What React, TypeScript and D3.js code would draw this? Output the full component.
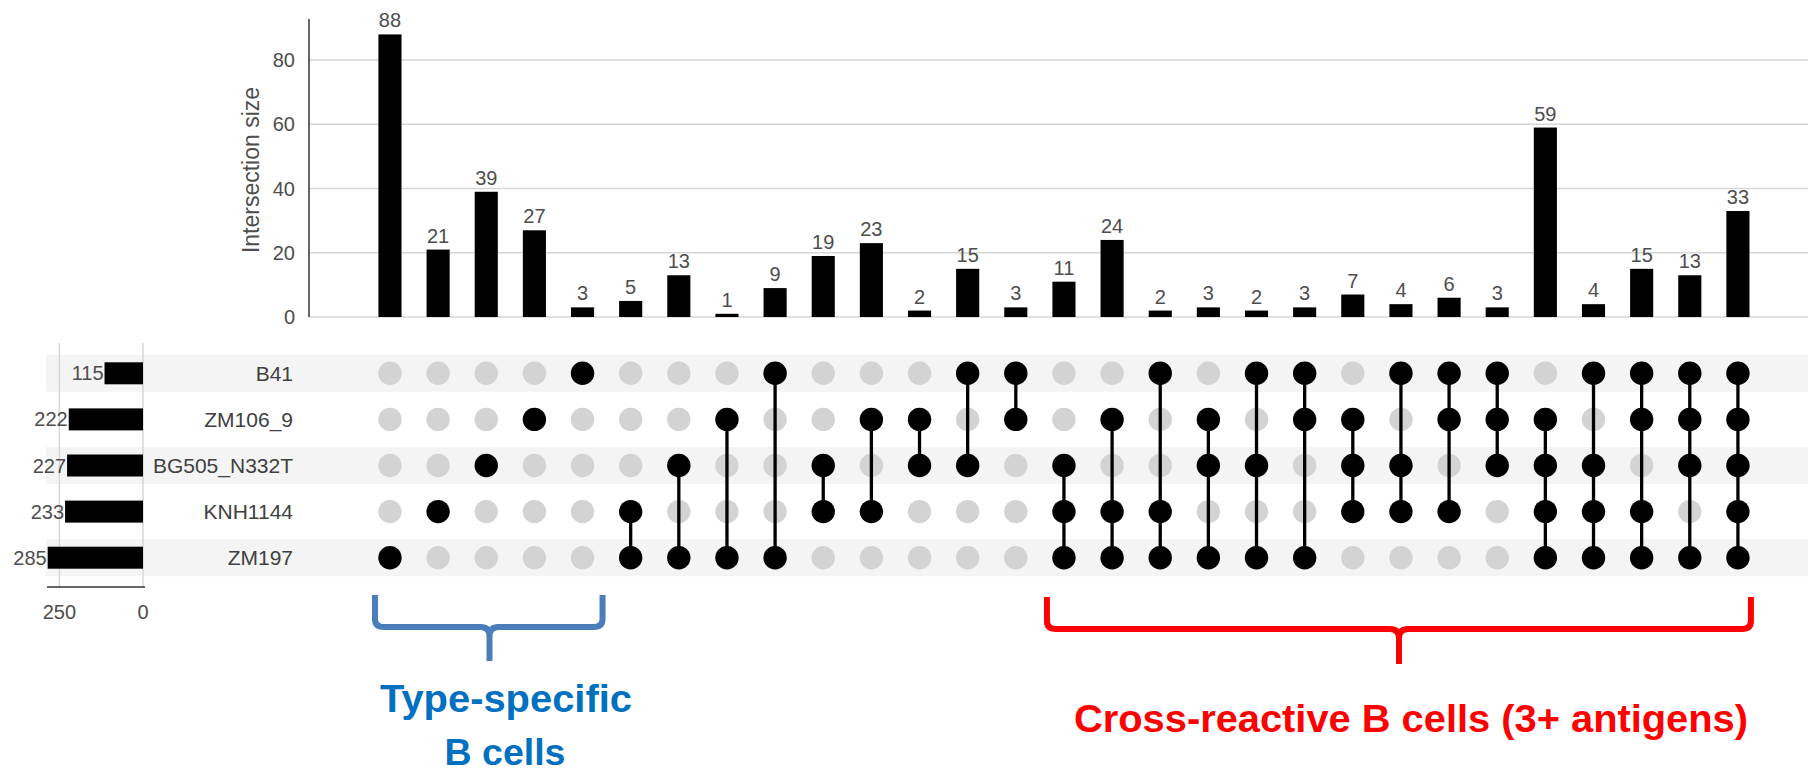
import React from "react";
import * as d3 from "d3";

const sets = ["B41", "ZM106_9", "BG505_N332T", "KNH1144", "ZM197"];
const setSizes = [115, 222, 227, 233, 285];

// each intersection: members (indices into sets) and its size
const intersectionMembers: number[][] = [
  [4], [3], [2], [1], [0],
  [3, 4], [2, 4], [1, 4], [0, 4], [2, 3], [1, 3], [1, 2], [0, 2], [0, 1],
  [2, 3, 4], [1, 3, 4], [0, 3, 4], [1, 2, 4], [0, 2, 4], [0, 1, 4],
  [1, 2, 3], [0, 2, 3], [0, 1, 3], [0, 1, 2],
  [1, 2, 3, 4], [0, 2, 3, 4], [0, 1, 3, 4], [0, 1, 2, 4],
  [0, 1, 2, 3, 4],
];
const intersectionSizes = [
  88, 21, 39, 27, 3, 5, 13, 1, 9, 19, 23, 2, 15, 3, 11, 24, 2, 3, 2, 3, 7, 4, 6, 3, 59, 4, 15, 13, 33,
];
const yTicks = [0, 20, 40, 60, 80];
const setTicks = [250, 0];

const W = 1808;
const H = 774;
const FONT = "'Liberation Sans', Arial, sans-serif";
const BOLD_FONT = "'Liberation Sans Narrow', 'Liberation Sans', Arial, sans-serif";

export default function App() {
  const idx = intersectionSizes.map((_, i) => i);
  const x = d3.scaleBand<number>().domain(idx).range([365.9, 1762]).paddingInner(0.52).paddingOuter(0.26);
  const cx = (i: number) => (x(i) as number) + x.bandwidth() / 2;
  const y = d3.scaleLinear().domain([0, 92.8]).range([317, 19]);
  const row = d3.scaleBand<string>().domain(sets).range([350.25, 580.75]);
  const cy = (s: string) => (row(s) as number) + row.bandwidth() / 2;
  const sx = d3.scaleLinear().domain([0, 287]).range([143, 47]);
  const r = 11.7;

  const brace = (L: number, R: number, mid: number, top: number, hy: number, bottom: number) =>
    `M${L},${top} L${L},${hy - 8} Q${L},${hy} ${L + 9},${hy} L${mid - 9},${hy} Q${mid},${hy} ${mid},${hy + 9} L${mid},${bottom} ` +
    `M${mid},${hy + 9} Q${mid},${hy} ${mid + 9},${hy} L${R - 9},${hy} Q${R},${hy} ${R},${hy - 8} L${R},${top}`;

  const blueL = cx(0) - 15;
  const blueR = cx(4) + 20;
  const redL = cx(14) - 17;
  const redR = cx(28) + 13;

  return (
    <svg width={W} height={H} style={{ display: "block", position: "absolute", left: 0, top: 0 }}>
      <rect width={W} height={H} fill="#fff" />
      {/* stripes */}
      {sets.map((s, k) =>
        k % 2 === 0 ? (
          <rect key={s} x={46} y={cy(s) - 18.5} width={W - 46} height={37} fill="#f4f4f4" />
        ) : null
      )}
      {/* grid lines */}
      {yTicks.map((t) => (
        <line key={t} x1={309} x2={W} y1={y(t)} y2={y(t)} stroke="#d6d6d6" strokeWidth={1.5} />
      ))}
      <line x1={309} x2={309} y1={y.range()[1]} y2={y(0)} stroke="#333" strokeWidth={1.5} />
      {yTicks.map((t) => (
        <text key={t} x={295} y={y(t)} dy="0.35em" textAnchor="end" fontFamily={FONT} fontSize={20} fill="#4d4d4d">
          {t}
        </text>
      ))}
      <text
        transform={`translate(251,${(y(0) + y.range()[1]) / 2 + 2}) rotate(-90)`}
        dy="0.35em"
        textAnchor="middle"
        fontFamily={FONT}
        fontSize={23}
        fill="#4d4d4d"
      >
        Intersection size
      </text>
      {/* bars */}
      {intersectionSizes.map((v, i) => (
        <g key={i}>
          <rect x={x(i)} y={y(v)} width={x.bandwidth()} height={y(0) - y(v)} fill="#000" />
          <text x={cx(i)} y={y(v) - 7} textAnchor="middle" fontFamily={FONT} fontSize={20} fill="#4d4d4d">
            {v}
          </text>
        </g>
      ))}
      {/* set size chart */}
      {setTicks.map((t) => (
        <g key={t}>
          <line x1={sx(t)} x2={sx(t)} y1={343} y2={587} stroke="#d6d6d6" strokeWidth={1.5} />
          <text x={sx(t)} y={612} dy="0.35em" textAnchor="middle" fontFamily={FONT} fontSize={20} fill="#4d4d4d">
            {t}
          </text>
        </g>
      ))}
      <line x1={47} x2={145} y1={587} y2={587} stroke="#333" strokeWidth={1.5} />
      {sets.map((s, k) => (
        <g key={s}>
          <rect x={sx(setSizes[k])} y={cy(s) - 11} width={sx(0) - sx(setSizes[k])} height={22} fill="#000" />
          <text x={sx(setSizes[k]) - 1} y={cy(s)} dy="0.35em" textAnchor="end" fontFamily={FONT} fontSize={20} fill="#4d4d4d">
            {setSizes[k]}
          </text>
          <text x={293} y={cy(s)} dy="0.35em" textAnchor="end" fontFamily={FONT} fontSize={21} fill="#404040">
            {s}
          </text>
        </g>
      ))}
      {/* matrix */}
      {intersectionMembers.map((m, i) => {
        const ys = m.map((k) => cy(sets[k]));
        return (
          <g key={i}>
            {sets.map((s, k) =>
              m.includes(k) ? null : <circle key={s} cx={cx(i)} cy={cy(s)} r={r} fill="#d3d3d3" />
            )}
            {m.length > 1 ? (
              <line x1={cx(i)} x2={cx(i)} y1={d3.min(ys)} y2={d3.max(ys)} stroke="#000" strokeWidth={3.3} />
            ) : null}
            {m.map((k) => (
              <circle key={k} cx={cx(i)} cy={cy(sets[k])} r={r} fill="#000" />
            ))}
          </g>
        );
      })}
      {/* annotations */}
      <path d={brace(blueL, blueR, 489.5, 595, 627, 661)} fill="none" stroke="#4a7ebb" strokeWidth={6} />
      <path d={brace(redL, redR, 1399, 597, 629, 664)} fill="none" stroke="#ff0000" strokeWidth={6} />
      <text x={506} y={712} textAnchor="middle" fontFamily={BOLD_FONT} fontWeight="bold" fontSize={39} fill="#0070c0" textLength={252} lengthAdjust="spacingAndGlyphs">
        Type-specific
      </text>
      <text x={505} y={765} textAnchor="middle" fontFamily={BOLD_FONT} fontWeight="bold" fontSize={37} fill="#0070c0" textLength={121} lengthAdjust="spacingAndGlyphs">
        B cells
      </text>
      <text x={1411} y={732} textAnchor="middle" fontFamily={BOLD_FONT} fontWeight="bold" fontSize={39} fill="#ff0000" textLength={674} lengthAdjust="spacingAndGlyphs">
        Cross-reactive B cells (3+ antigens)
      </text>
    </svg>
  );
}
